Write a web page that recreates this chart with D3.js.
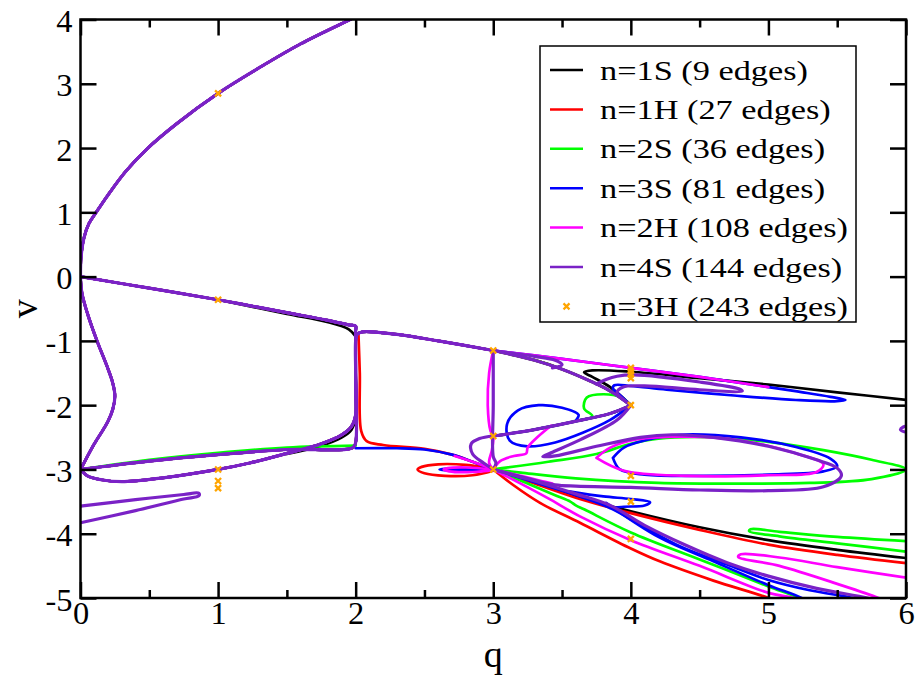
<!DOCTYPE html>
<html><head><meta charset="utf-8">
<script src="https://cdn.jsdelivr.net/npm/d3@7"></script>
<style>body{margin:0;background:#fff}svg{display:block}</style>
</head><body>
<svg id="chart" width="915" height="677"></svg>
<script>
// ---------- axis data ----------
const xDomain = [0, 6];
const yDomain = [-5, 4];
const xTicks = [0, 1, 2, 3, 4, 5, 6];
const xMinorTicks = [0.5, 1.5, 2.5, 3.5, 4.5, 5.5];
const yTicks = [4, 3, 2, 1, 0, -1, -2, -3, -4, -5];
const xLabel = "q";
const yLabel = "v";

// ---------- legend ----------
const seriesLabels = ["n=1S (9 edges)", "n=1H (27 edges)", "n=2S (36 edges)", "n=3S (81 edges)",
  "n=2H (108 edges)", "n=4S (144 edges)", "n=3H (243 edges)"];
const seriesColors = ["#000000", "#ff0000", "#00ff00", "#0000ff", "#ff00ff", "#7a22c6", "#ffa500"];

// ---------- curves common to all series (q, v) ----------
const upperBranch = [[0,0],[0.004,0.3],[0.025,0.6],[0.06,0.82],[0.114,1.0],[0.2,1.27],[0.33,1.64],[0.49,2.0],[0.7,2.38],[1.0,2.85],[1.3,3.25],[1.6,3.62],[1.96,4.0],[2.1,4.15]];
const leftBulge = [[0,0],[0.01,-0.25],[0.05,-0.57],[0.12,-1.0],[0.19,-1.38],[0.235,-1.66],[0.25,-1.86],[0.235,-2.06],[0.2,-2.25],[0.09,-2.64],[0.02,-2.92],[0,-3.0]];
const midLoop = [[0,0],[0.5,-0.18],[1,-0.36],[1.5,-0.56],[1.8,-0.68],[1.95,-0.75],[2,-0.77],[2,-0.85],[2,-1.7],[2,-2.58],[1.98,-2.66],[1.5,-2.69],[1,-2.77],[0.5,-2.87],[0,-3.0]];
const lowerDip = [[0,-3.0],[0.05,-3.1],[0.15,-3.16],[0.3,-3.19],[0.6,-3.13],[1,-3.0],[1.23,-2.9],[1.5,-2.75],[1.75,-2.6],[1.9,-2.46],[1.97,-2.33],[2.0,-2.15],[2.0,-1.5],[2.0,-1.0],[2.01,-0.9],[2.05,-0.86],[2.3,-0.9],[2.6,-1.0],[3,-1.15]];
const topDiag = [[3,-1.15],[3.3,-1.3],[3.5,-1.44],[3.7,-1.62],[3.85,-1.78],[4,-2.0]];
const midDiag = [[3,-2.48],[3.3,-2.38],[3.6,-2.25],[3.85,-2.13],[4,-2.0]];
const topLine = [[3,-1.15],[3.5,-1.28],[4,-1.42],[4.5,-1.56],[5,-1.72]];

// ---------- n=1S (black) ----------
const n1S = [
  [[1,-0.36],[1.5,-0.58],[1.8,-0.71],[1.95,-0.82],[2,-0.93]],
  [[1.5,-2.76],[1.75,-2.63],[1.9,-2.5],[1.97,-2.38],[2,-2.2]],
  topDiag,
  [[4,-2.0],[3.85,-1.72],[3.72,-1.56],[3.66,-1.49],[3.72,-1.46],[4,-1.48],[4.5,-1.58],[5,-1.68],[5.5,-1.8],[6.05,-1.93]],
  [[3,-3],[3.3,-3.2],[3.6,-3.42],[4,-3.65],[4.5,-3.9],[5,-4.1],[5.5,-4.25],[6.05,-4.39]]
];
// ---------- n=1H (red) ----------
const n1H = [
  [[2.02,-0.88],[2.03,-1.5],[2.04,-2.4],[2.08,-2.56],[2.2,-2.62],[2.5,-2.68],[2.7,-2.77],[2.85,-2.88],[3,-3]],
  [[3,-3.0],[2.8,-2.93],[2.6,-2.92],[2.48,-2.96],[2.45,-3.0],[2.5,-3.06],[2.65,-3.1],[2.85,-3.09],[3,-3.02]],
  topDiag, midDiag,
  [[3,-3],[3.3,-3.22],[3.6,-3.44],[4,-3.68],[4.5,-3.94],[5,-4.17],[5.5,-4.33],[6.05,-4.47]],
  [[3,-3],[3.15,-3.25],[3.34,-3.52],[3.63,-3.83],[4,-4.23],[4.21,-4.43],[4.6,-4.73],[5,-5.0],[5.1,-5.1]]
];
// ---------- n=2S (green) ----------
const n2S = [
  [[0,-3],[0.5,-2.85],[1,-2.74],[1.5,-2.66],[2,-2.63]],
  topDiag, midDiag,
  [[3.58,-2.25],[3.72,-2.17],[3.66,-2.05],[3.68,-1.88],[3.8,-1.83],[3.93,-1.88],[4,-2.0]],
  [[3,-3.0],[3.4,-2.88],[3.75,-2.76],[4.0,-2.6],[4.2,-2.52],[4.6,-2.5],[5.0,-2.57],[5.4,-2.7],[5.75,-2.85],[6.0,-3.0],[5.75,-3.15],[5.3,-3.21],[4.8,-3.22],[4.2,-3.21],[3.6,-3.14],[3.2,-3.05],[3,-3.0]],
  [[3,-3],[3.25,-3.22],[3.45,-3.4],[3.56,-3.5],[3.6,-3.56],[3.66,-3.62],[4,-3.98],[4.5,-4.4],[5,-4.82],[5.22,-5.0],[5.3,-5.1]],
  [[6.05,-4.12],[5.5,-4.05],[5.08,-3.97],[4.87,-3.93],[4.86,-3.96],[5.08,-4.04],[5.5,-4.15],[6.05,-4.29]]
];
// ---------- n=3S (blue) ----------
const n3S = [
  [[2,-2.67],[2.3,-2.67],[2.5,-2.69],[2.7,-2.77],[2.85,-2.88],[3,-3]],
  [[3,-3.0],[2.8,-2.98],[2.65,-2.99],[2.61,-3.0],[2.65,-3.01],[2.8,-3.02],[3,-3.01]],
  midDiag,
  [[3.6,-2.24],[3.62,-2.15],[3.5,-2.04],[3.33,-2.0],[3.18,-2.08],[3.1,-2.3],[3.12,-2.55],[3.25,-2.64],[3.45,-2.58],[3.65,-2.43],[3.85,-2.23],[4,-2.0]],
  [[3,-1.15],[3.5,-1.28],[4,-1.42],[4.5,-1.56],[5,-1.72],[5.25,-1.8],[5.45,-1.87],[5.56,-1.92],[5.48,-1.94],[5.2,-1.92],[4.75,-1.85],[4.26,-1.76],[4.0,-1.7],[3.88,-1.69],[3.87,-1.74],[3.93,-1.86],[4,-2.0]],
  [[3.87,-2.82],[3.95,-2.66],[4.1,-2.55],[4.35,-2.46],[4.8,-2.5],[5.2,-2.65],[5.45,-2.83],[5.5,-2.95],[5.4,-3.03],[5.0,-3.08],[4.5,-3.1],[4.1,-3.08],[3.92,-3.0],[3.87,-2.82]],
  [[3,-3],[3.3,-3.2],[3.6,-3.4],[3.85,-3.6],[4.1,-3.9],[4.36,-4.2],[4.7,-4.48],[5,-4.72],[5.3,-4.88],[5.62,-5.0],[5.7,-5.05]],
  [[3.55,-3.34],[3.8,-3.42],[4.0,-3.46],[4.14,-3.51],[4.1,-3.56],[3.95,-3.58],[3.85,-3.6]],
  [[3.82,-3.52],[4.2,-4.05],[4.6,-4.43],[5.0,-4.8],[5.24,-5.0],[5.3,-5.1]]
];
// ---------- n=2H (magenta) ----------
const n2H = [
  [[2.72,-2.79],[2.85,-2.88],[3,-3]],
  [[3,-3.0],[2.8,-2.97],[2.67,-2.98],[2.64,-3.0],[2.68,-3.03],[2.85,-3.04],[3,-3.01]],
  [[3,-1.15],[2.97,-1.5],[2.96,-2.0],[2.98,-2.4],[3,-2.48],[2.99,-2.7],[2.97,-2.9],[3,-3]],
  [[3,-3.0],[3.05,-2.87],[3.15,-2.79],[3.24,-2.75],[3.25,-2.66],[3.32,-2.5],[3.42,-2.32]],
  topLine,
  [[3.75,-2.82],[3.85,-2.66],[4.05,-2.53],[4.4,-2.49],[4.8,-2.55],[5.2,-2.75],[5.4,-2.92],[5.35,-3.04],[5.0,-3.09],[4.4,-3.1],[3.95,-3.02],[3.75,-2.82]],
  [[3,-3],[3.2,-3.1],[3.35,-3.18],[3.43,-3.22]],
  [[3,-3],[3.2,-3.22],[3.4,-3.45],[3.63,-3.73],[4,-4.1],[4.5,-4.5],[5,-4.92],[5.18,-5.0],[5.3,-5.1]],
  [[6.05,-4.7],[5.5,-4.52],[5.08,-4.37],[4.8,-4.32],[4.78,-4.36],[5.08,-4.5],[5.5,-4.78],[5.8,-5.0],[5.9,-5.1]]
];
// ---------- n=4S (purple) ----------
const n4S = [
  [[3,-1.15],[3,-2.0],[3,-2.8],[3.02,-2.9],[3,-3]],
  [[3,-2.48],[2.9,-2.52],[2.84,-2.6],[2.85,-2.76],[2.93,-2.9],[3,-3.0]],
  midDiag,
  topDiag,
  [[3,-1.15],[3.3,-1.24],[3.45,-1.3],[3.5,-1.37],[3.43,-1.42]],
  [[3.75,-1.67],[3.82,-1.6],[3.9,-1.55],[4.02,-1.53],[4.5,-1.64],[4.79,-1.75],[4.81,-1.78],[4.5,-1.76],[4.1,-1.7],[3.94,-1.72],[3.9,-1.8],[3.95,-1.92],[4,-2.0]],
  [[4,-2.0],[3.9,-2.23],[3.63,-2.54],[3.42,-2.74],[3.36,-2.8],[3.45,-2.79],[3.75,-2.64],[4.07,-2.5],[4.3,-2.46],[4.6,-2.5],[5.0,-2.64],[5.35,-2.85],[5.5,-2.98],[5.53,-3.1],[5.4,-3.27],[5.0,-3.33],[4.5,-3.32],[4.0,-3.28],[3.6,-3.26],[3.45,-3.24],[3.3,-3.17],[3,-3.0]],
  [[3,-3],[3.3,-3.18],[3.6,-3.38],[3.85,-3.56],[4.1,-3.87],[4.4,-4.18],[4.7,-4.45],[5,-4.66],[5.35,-4.85],[5.72,-5.0],[5.8,-5.05]],
  [[6.05,-2.31],[5.98,-2.34],[5.96,-2.38],[6.05,-2.45]],
  [[0,-3.57],[0.4,-3.47],[0.75,-3.39],[0.86,-3.37],[0.86,-3.41],[0.75,-3.46],[0.4,-3.64],[0,-3.83]]
];
// ---------- n=3H (orange crosses) ----------
const n3H = [[1,2.85],[1,-0.36],[1,-3.0],[1,-3.18],[1,-3.29],[3,-1.15],[3,-2.48],[3,-3.0],
  [4,-1.42],[4,-1.47],[4,-1.52],[4,-1.58],[4,-2.0],[4,-3.1],[4,-3.5],[4,-4.08]];

const commonLeft = [upperBranch, leftBulge, midLoop, lowerDip];
const lineSeries = [n1S, n1H, n2S, n3S, n2H, n4S];

// ---------- drawing ----------
const svg = d3.select("#chart");
const L = 80.5, R = 906, T = 19.5, B = 598;
const x = d3.scaleLinear().domain(xDomain).range([L, R]);
const y = d3.scaleLinear().domain(yDomain).range([B, T]);
const FONT = "Liberation Serif, Times New Roman, Times, Nimbus Roman, FreeSerif, DejaVu Serif, serif";

svg.append("rect").attr("width", 915).attr("height", 677).attr("fill", "#fff");
svg.append("defs").append("clipPath").attr("id", "clip")
  .append("rect").attr("x", L).attr("y", T).attr("width", R - L).attr("height", B - T);

const line = d3.line().x(d => x(d[0])).y(d => y(d[1])).curve(d3.curveCatmullRom.alpha(0.5));
const plot = svg.append("g").attr("clip-path", "url(#clip)");

lineSeries.forEach((segs, i) => {
  const all = commonLeft.concat(segs);
  plot.append("g").selectAll("path").data(all).join("path")
    .attr("d", line).attr("fill", "none")
    .attr("stroke", seriesColors[i])
    .attr("stroke-width", i === 5 ? 3.2 : 2.7)
    .attr("stroke-linejoin", "round").attr("stroke-linecap", "round");
});

const cross = (cx, cy, s) => `M${cx-s},${cy-s}L${cx+s},${cy+s}M${cx-s},${cy+s}L${cx+s},${cy-s}`;
plot.append("g").selectAll("path").data(n3H).join("path")
  .attr("d", d => cross(x(d[0]), y(d[1]), 3))
  .attr("stroke", seriesColors[6]).attr("stroke-width", 2.3).attr("fill", "none");

// measure a string in the available font, return horizontal factor to reach target width
function widthFactor(str, size, target) {
  const t = svg.append("text").attr("font-family", FONT).attr("font-size", size).text(str);
  const w = t.node().getComputedTextLength();
  t.remove();
  return target / w;
}
const tickSX = widthFactor("-5", 32, 27);
const legSX = widthFactor(seriesLabels[0], 27, 208);
const qSX = widthFactor("q", 44, 22);

// ---------- axes ----------
const fmt = d => String(d);
function styleAxis(g) {
  g.select(".domain").remove();
  g.selectAll("line").attr("stroke", "#000").attr("stroke-width", 2.5);
}
// bottom
const gb = svg.append("g").attr("transform", `translate(0,${B})`)
  .call(d3.axisBottom(x).tickValues(xTicks).tickSize(-16).tickFormat(fmt));
styleAxis(gb);
gb.selectAll("text").attr("font-family", FONT).attr("font-size", 32).attr("fill", "#000")
  .attr("y", 26).attr("dy", 0).attr("transform", `scale(${tickSX},1)`);
svg.append("g").attr("transform", `translate(0,${B})`)
  .call(d3.axisBottom(x).tickValues(xMinorTicks).tickSize(-8).tickFormat("")).call(styleAxis);
// top
svg.append("g").attr("transform", `translate(0,${T})`)
  .call(d3.axisTop(x).tickValues(xTicks).tickSize(-16).tickFormat("")).call(styleAxis);
svg.append("g").attr("transform", `translate(0,${T})`)
  .call(d3.axisTop(x).tickValues(xMinorTicks).tickSize(-8).tickFormat("")).call(styleAxis);
// left
const gl = svg.append("g").attr("transform", `translate(${L},0)`)
  .call(d3.axisLeft(y).tickValues(yTicks).tickSize(-16).tickFormat(fmt));
styleAxis(gl);
gl.selectAll("text").attr("font-family", FONT).attr("font-size", 32).attr("fill", "#000")
  .attr("dy", 0).attr("y", 12).attr("x", -8 / tickSX).attr("transform", `scale(${tickSX},1)`);
// right
svg.append("g").attr("transform", `translate(${R},0)`)
  .call(d3.axisRight(y).tickValues(yTicks).tickSize(-16).tickFormat("")).call(styleAxis);

// frame
svg.append("rect").attr("x", L).attr("y", T).attr("width", R - L).attr("height", B - T)
  .attr("fill", "none").attr("stroke", "#000").attr("stroke-width", 2.5);

// axis titles
svg.append("text").attr("transform", `translate(${(L + R) / 2},667) scale(${qSX},1)`)
  .attr("text-anchor", "middle").attr("font-family", FONT).attr("font-size", 38).text(xLabel);
svg.append("text").attr("transform", `translate(37,${(T + B) / 2}) rotate(-90) scale(1,${qSX})`)
  .attr("text-anchor", "middle").attr("font-family", FONT).attr("font-size", 38).text(yLabel);

// ---------- legend ----------
const lg = svg.append("g");
lg.append("rect").attr("x", 540).attr("y", 46).attr("width", 316).attr("height", 276)
  .attr("fill", "#fff").attr("stroke", "#000").attr("stroke-width", 1.5);
seriesLabels.forEach((lab, i) => {
  const cy = 70 + i * 39.4;
  if (i < 6) {
    lg.append("line").attr("x1", 550).attr("x2", 583).attr("y1", cy).attr("y2", cy)
      .attr("stroke", seriesColors[i]).attr("stroke-width", 2.5);
  } else {
    lg.append("path").attr("d", cross(566.5, cy, 3)).attr("stroke", seriesColors[6])
      .attr("stroke-width", 2.2).attr("fill", "none");
  }
  lg.append("text").attr("transform", `translate(600,${cy + 9.5}) scale(${legSX},1)`)
    .attr("font-family", FONT).attr("font-size", 27).attr("fill", "#000").text(lab);
});
</script>
</body></html>
